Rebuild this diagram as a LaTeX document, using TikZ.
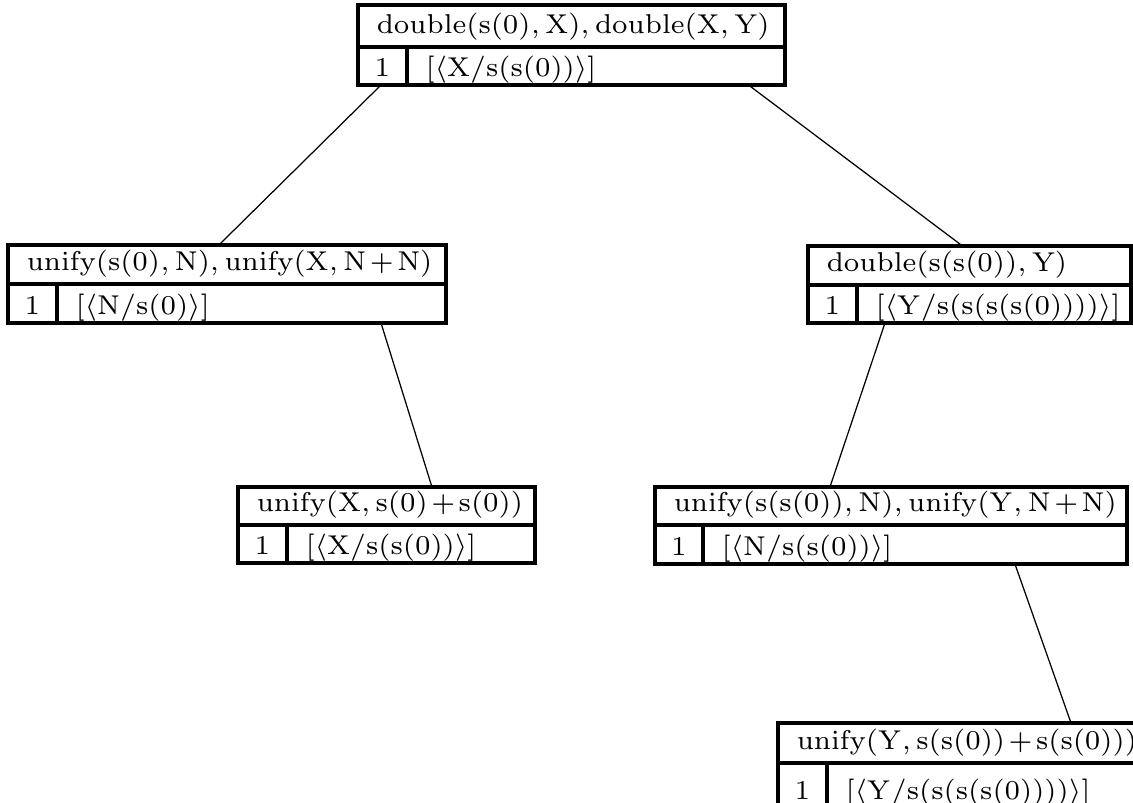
\documentclass[tikz,border=0pt]{standalone}
\usetikzlibrary{fit,calc}

\tikzset{
  cell/.style={draw, line width=0.78pt, inner sep=0pt},
  txt/.style={inner sep=0pt, font=\fontsize{7}{8.4}\selectfont},
  goaltext/.style={txt, anchor=base west},
  numtext/.style={txt, anchor=base},
  edge/.style={line width=0.32pt},
}

% #1 name, #2 left, #3 top, #4 middle rule, #5 bottom, #6 divider, #7 right,
% #8 goal list, #9 substitution
\newcommand{\resbox}[9]{%
  \node[cell, fit={(#2,#3) (#7,#4)}] (#1-goal) {};
  \node[cell, fit={(#2,#4) (#6,#5)}] (#1-num) {};
  \node[cell, fit={(#6,#4) (#7,#5)}] (#1-subst) {};
  \node[goaltext] (#1-goal-label) at ({#2+18},{#4-13}) {$\medmuskip=2mu #8$};
  \node[numtext] (#1-num-label) at ({(#2+#6)/2},{#5-8}) {$1$};
  \node[goaltext] (#1-subst-label) at ({#6+18},{#5-8}) {$#9$};
}

\begin{document}
\begin{tikzpicture}[x=0.257pt, y=-0.257pt]
\useasboundingbox (0,0) rectangle (1133,803);
\fill[white] (0,0) rectangle (1133,803);
\clip (0,0) rectangle (1133,803);

\resbox{b1}{358}{5}{47}{85}{407}{785}
  {\mathrm{double(s(0),X),double(X,Y)}}
  {[\langle\mathrm{X/s(s(0))}\rangle]}
\resbox{b2}{8}{245}{284}{323}{57}{446}
  {\mathrm{unify(s(0),N),unify(X,N+N)}}
  {[\langle\mathrm{N/s(0)}\rangle]}
\resbox{b3}{808}{246}{285}{323}{857}{1131}
  {\mathrm{double(s(s(0)),Y)}}
  {[\langle\mathrm{Y/s(s(s(s(0))))}\rangle]}
\resbox{b4}{238}{487}{525}{563}{287}{535}
  {\mathrm{unify(X,s(0)+s(0))}}
  {[\langle\mathrm{X/s(s(0))}\rangle]}
\resbox{b5}{655}{487}{525}{564}{703}{1127}
  {\mathrm{unify(s(s(0)),N),unify(Y,N+N)}}
  {[\langle\mathrm{N/s(s(0))}\rangle]}
\resbox{b6}{778}{723}{763}{808}{827}{1180}
  {\mathrm{unify(Y,s(s(0))+s(s(0)))}}
  {[\langle\mathrm{Y/s(s(s(s(0))))}\rangle]}

% derivation edges
\draw[edge] ($(b1-num.south west)+(23,0)$) -- ($(b2-goal.north west)+(214,0)$);
\draw[edge] ($(b1-num.south west)+(394,0)$) -- ($(b3-goal.north west)+(154,0)$);
\draw[edge] ($(b2-num.south west)+(375,0)$) -- ($(b4-goal.north west)+(195,0)$);
\draw[edge] ($(b3-num.south west)+(78,0)$) -- ($(b5-goal.north west)+(177,0)$);
\draw[edge] ($(b5-num.south west)+(362,0)$) -- ($(b6-goal.north west)+(294,0)$);
\end{tikzpicture}
\end{document}
